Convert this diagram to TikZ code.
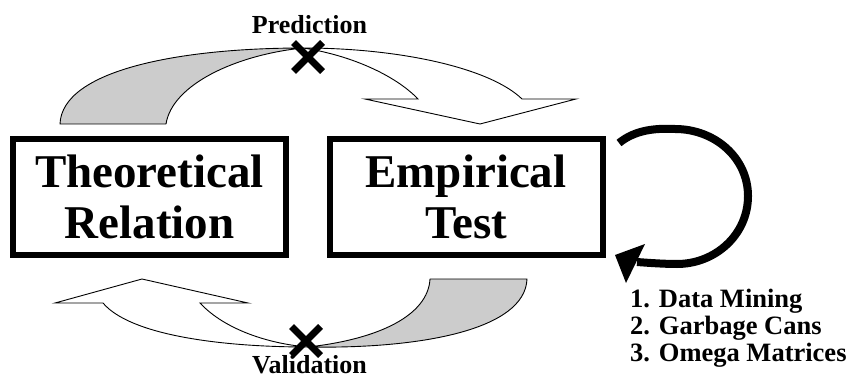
\documentclass[tikz,border=0pt]{standalone}
\usepackage{fontspec}
\setmainfont{Liberation Serif}
\begin{document}
\begin{tikzpicture}[x=1pt,y=-1pt,
  box/.style={draw,line width=6pt,minimum width=273pt,minimum height=116pt,inner sep=0pt,align=center,
    font=\bfseries\fontsize{47}{51}\selectfont},
  lbl/.style={font=\bfseries\fontsize{26}{27}\selectfont,inner sep=0pt},
  lst/.style={font=\bfseries\fontsize{26.5}{27}\selectfont,inner sep=0pt,anchor=base west},
  grayc/.style={draw,line width=0.9pt,fill=black!20,line join=round},
  whitec/.style={draw,line width=0.9pt,fill=white,line join=miter},
  xmark/.style={line width=7pt},
  loopline/.style={line width=8pt}]
\useasboundingbox (0,0) rectangle (850,379);
\fill[white] (0,0) rectangle (850,379);

% boxes
\node[box] (theo) at (149.5,197) {Theoretical\\Relation};
\node[box] (emp) at (466,197) {Empirical\\Test};

% labels
\node[lbl,anchor=base] (pred) at (309.5,34) {Prediction};
\node[lbl,anchor=base] (valid) at (309.5,373) {Validation};

% top crescent arrow (prediction)
\coordinate (ptop) at (303,48);
\path[grayc] (60,124) .. controls (62,70) and (180,48) .. (ptop)
  .. controls (235,55) and (172,85) .. (166,124) -- cycle;
\path[whitec] (ptop) .. controls (400,48) and (490,68) .. (522,99)
  -- (576,99) -- (480,124) -- (365,99) -- (418,99)
  .. controls (395,75) and (350,55) .. (ptop) -- cycle;

% bottom crescent arrow (validation)
\coordinate (pbot) at (308,347);
\path[grayc] (430,279) -- (527,279) .. controls (525,330) and (420,349) .. (pbot)
  .. controls (380,339) and (428,315) .. (430,279) -- cycle;
\path[whitec] (pbot) .. controls (220,347) and (130,335) .. (103,303)
  -- (55,303) -- (142,279) -- (248,303) -- (200,303)
  .. controls (225,330) and (270,344) .. (pbot) -- cycle;

% X marks
\coordinate (xt) at (308,57);
\coordinate (xb) at (306,341);
\draw[xmark] ([shift={(-14.5,-14.5)}]xt) -- ([shift={(14.5,14.5)}]xt)
             ([shift={(-14.5,14.5)}]xt) -- ([shift={(14.5,-14.5)}]xt);
\draw[xmark] ([shift={(-14.5,-14.5)}]xb) -- ([shift={(14.5,14.5)}]xb)
             ([shift={(-14.5,14.5)}]xb) -- ([shift={(14.5,-14.5)}]xb);

% self loop on Empirical Test
\coordinate (ls) at (619,143);
\coordinate (le) at (637,262);
\draw[loopline] (ls) .. controls (635,130) and (655,128) .. (675,129)
  .. controls (715,129) and (748,158) .. (748,196)
  .. controls (748,235) and (715,264) .. (677,264)
  .. controls (665,264) and (650,263) .. (le);
\fill (615,255) -- (645,244) -- (626,283) -- cycle;

% list
\node[lst] (l1) at (630,307) {1. Data Mining};
\node[lst] (l2) at (630,334) {2. Garbage Cans};
\node[lst] (l3) at (630,361) {3. Omega Matrices};
\end{tikzpicture}
\end{document}
